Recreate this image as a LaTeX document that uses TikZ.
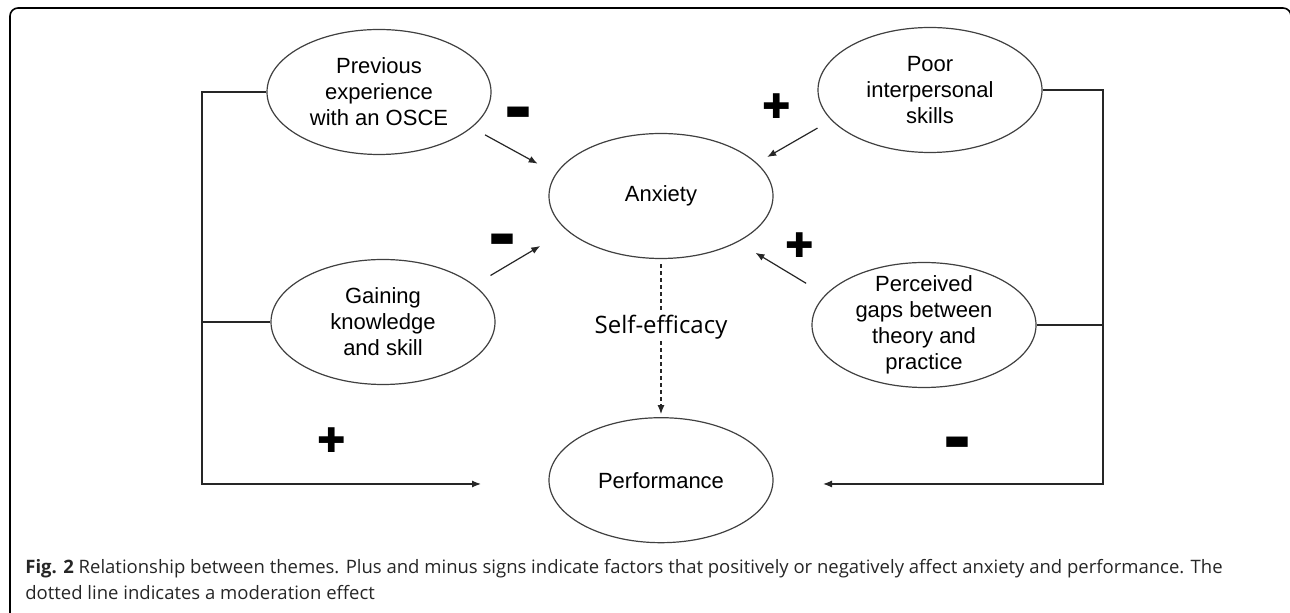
\documentclass[tikz,border=0pt]{standalone}
\usepackage{fontspec}
\setmainfont{Liberation Sans}
\newfontfamily\capfont{Open Sans}
\newfontfamily\symfont{DejaVu Sans}
\usetikzlibrary{positioning, shapes.geometric, arrows.meta}

\begin{document}
\begin{tikzpicture}[
    x=0.5pt, y=-0.5pt,
    theme/.style={ellipse, draw=black!75, line width=0.6pt, inner sep=0pt, minimum width=112pt, minimum height=62.5pt, align=center, font=\fontsize{11}{13}\selectfont},
    sign/.style={inner sep=0pt, font=\symfont\fontsize{14}{14}\selectfont},
    plus/.style={sign, font=\symfont\fontsize{17}{17}\selectfont},
    arr/.style={-{Latex[length=4.5pt,width=3.5pt]}, line width=0.6pt, black!85},
    link/.style={line width=0.6pt, black!85},
]
    \useasboundingbox (0,0) rectangle (1290,613);
    \draw[line width=0.8pt, rounded corners=4pt] (10,630) -- (10,8) -- (1291,8) -- (1291,630);

    % Nodes
    \node[theme] (Anx) at (661,196) {Anxiety};
    \node[theme] (Perf) [below=79pt of Anx] {Performance};
    \node[theme] (Prev) at (379,92) {Previous\\experience\\with an OSCE};
    \node[theme] (Poor) at (930,90) {Poor\\interpersonal\\skills};
    \node[theme] (Gain) at (383,322) {Gaining\\knowledge\\and skill};
    \node[theme, inner ysep=-4pt] (Perc) at (924,325) {Perceived\\gaps between\\theory and\\practice};

    % Signs
    \node[sign] (MinPrev)  at (518,113) {▬};
    \node[plus] (PlusPoor) at (777,106) {✚};
    \node[sign] (MinGain)  at (502,240) {▬};
    \node[plus] (PlusPerc) at (800,245) {✚};
    \node[plus] (PlusLoop) at (332,440) {✚};
    \node[sign] (MinLoop)  at (957,443) {▬};

    % Lines
    \draw[arr, shorten <=7.5pt, shorten >=10.3pt] (Prev.-21) -- (Anx.168);
    \draw[arr, shorten <=9.4pt, shorten >=15.3pt] (Gain.22) -- (Anx.200);
    \draw[arr, shorten <=7.9pt, shorten >=5.9pt] (Poor.197) -- (Anx.19);
    \draw[arr, shorten <=11.1pt, shorten >=10.3pt] (Perc.163) -- (Anx.-31);
    \draw[arr, dashed, dash pattern=on 2pt off 1.5pt, shorten <=2.5pt, shorten >=1.5pt] (Anx.south) -- node[pos=0.43, fill=white, text=black, inner sep=1pt, font=\capfont\fontsize{12}{14}\selectfont] (SE) {Self-efficacy} (Perf.north);

    % Feedback to performance
    \coordinate (LBend) at (202,484);
    \coordinate (LEnd)  at (481,484);
    \coordinate (RBend) at (1103,484);
    \coordinate (REnd)  at (823,484);
    \draw[arr] (Prev.west) -| (LBend) -- (LEnd);
    \draw[link] (Gain.west) -- (Gain.west -| LBend);
    \draw[arr] (Poor.east) -| (RBend) -- (REnd);
    \draw[link] (Perc.east) -- (Perc.east -| RBend);

    % Caption
    \node[anchor=north west, align=left, inner sep=0pt, text=black!85, font=\capfont\fontsize{9.25}{12.8}\selectfont] (Cap) at (25,559)
        {\textbf{Fig. 2} Relationship between themes. Plus and minus signs indicate factors that positively or negatively affect anxiety and performance. The\\dotted line indicates a moderation effect};
\end{tikzpicture}
\end{document}
